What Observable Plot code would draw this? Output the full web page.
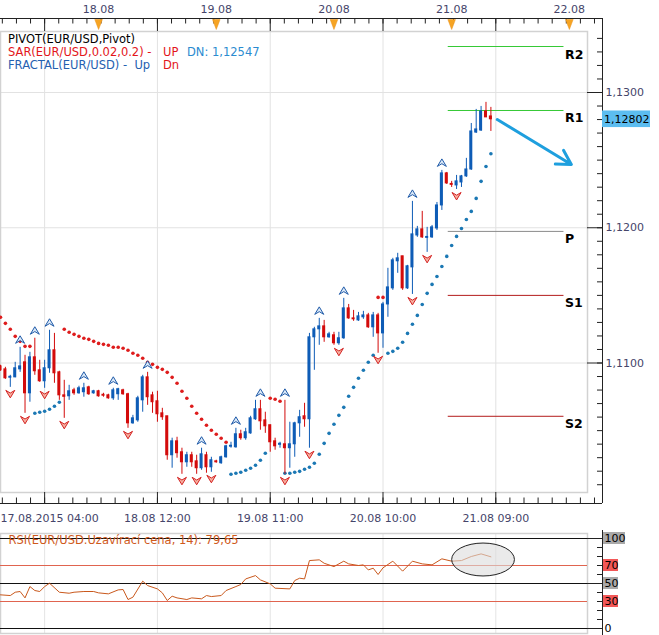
<!DOCTYPE html>
<html><head><meta charset="utf-8">
<script src="https://cdn.jsdelivr.net/npm/d3@7"></script>
<script src="https://cdn.jsdelivr.net/npm/@observablehq/plot@0.6"></script>
<style>
body{margin:0;background:#fff;}
#wrap{position:relative;width:659px;height:635px;overflow:hidden;font-family:"DejaVu Sans",Verdana,sans-serif;background:#fff;}
#main{position:absolute;left:0;top:0}
#rsi{position:absolute;left:0;top:530px}
.lg{position:absolute;font-size:11.5px;white-space:pre;line-height:13px}
</style></head><body>
<div id="wrap"><div id="main"></div><div id="rsi"></div>
<div class="lg" style="left:8px;top:32.5px;color:#000">PIVOT(EUR/USD,Pivot)</div>
<div class="lg" style="left:8px;top:45.5px;color:#e3151a">SAR(EUR/USD,0.02,0.2) -</div>
<div class="lg" style="left:163px;top:45.5px;color:#e3151a">UP</div>
<div class="lg" style="left:187px;top:45.5px;color:#2b8bd0">DN: 1,12547</div>
<div class="lg" style="left:8px;top:58.5px;color:#2560b0">FRACTAL(EUR/USD) -  Up</div>
<div class="lg" style="left:163px;top:58.5px;color:#e3151a">Dn</div>
</div>
<script>
// ---------- data (hourly EUR/USD candles, index 0 = 17.08.2015 04:00) ----------
const open = [1.10975,1.10953,1.10891,1.10894,1.10953,1.11005,1.10776,1.11042,1.10946,1.10865,
1.10961,1.11094,1.10931,1.10761,1.10754,1.10798,1.10776,1.10784,1.10820,1.10776,
1.10791,1.10765,1.10761,1.10739,1.10769,1.10798,1.10769,1.10554,1.10576,1.10724,
1.10894,1.10761,1.10717,1.10628,1.10606,1.10318,1.10421,1.10340,1.10266,1.10318,
1.10273,1.10222,1.10318,1.10229,1.10273,1.10259,1.10303,1.10381,1.10377,1.10473,
1.10444,1.10480,1.10584,1.10658,1.10576,1.10540,1.10421,1.10395,1.10399,1.10370,
1.10399,1.10554,1.10606,1.10584,1.11190,1.11249,1.11271,1.11190,1.11205,1.11146,
1.11183,1.11404,1.11330,1.11315,1.11338,1.11352,1.11264,1.11352,1.11219,1.11433,
1.11552,1.11752,1.11789,1.11552,1.11707,1.11943,1.11988,1.11925,1.11929,1.11995,
1.12165,1.12402,1.12324,1.12313,1.12335,1.12380,1.12431,1.12704,1.12719,1.12860,
1.12823];
const high = [1.10983,1.10968,1.10909,1.11005,1.11116,1.11057,1.11079,1.11183,1.11020,1.11020,
1.11242,1.11219,1.10939,1.10872,1.10835,1.10813,1.10828,1.10850,1.10828,1.10798,
1.10798,1.10776,1.10769,1.10813,1.10813,1.10806,1.10776,1.10613,1.10754,1.10909,
1.10931,1.10784,1.10791,1.10665,1.10606,1.10444,1.10451,1.10370,1.10340,1.10340,
1.10318,1.10370,1.10340,1.10303,1.10281,1.10311,1.10392,1.10414,1.10517,1.10503,
1.10517,1.10606,1.10724,1.10724,1.10636,1.10540,1.10444,1.10414,1.10724,1.10562,
1.10562,1.10650,1.10702,1.11219,1.11264,1.11330,1.11315,1.11227,1.11227,1.11227,
1.11478,1.11433,1.11389,1.11374,1.11382,1.11367,1.11374,1.11367,1.11448,1.11700,
1.11774,1.11811,1.11789,1.11722,1.12195,1.12010,1.12121,1.12003,1.12017,1.12187,
1.12424,1.12409,1.12343,1.12387,1.12387,1.12513,1.12771,1.12875,1.12897,1.12927,
1.12890];
const low = [1.10939,1.10879,1.10820,1.10891,1.10931,1.10628,1.10710,1.10909,1.10857,1.10813,
1.10924,1.10850,1.10724,1.10591,1.10724,1.10761,1.10769,1.10747,1.10761,1.10769,
1.10747,1.10747,1.10732,1.10724,1.10724,1.10761,1.10517,1.10547,1.10562,1.10636,
1.10687,1.10628,1.10562,1.10576,1.10281,1.10222,1.10296,1.10177,1.10229,1.10229,
1.10177,1.10207,1.10185,1.10192,1.10259,1.10251,1.10296,1.10370,1.10370,1.10429,
1.10429,1.10473,1.10576,1.10503,1.10480,1.10340,1.10355,1.10370,1.10177,1.10222,
1.10303,1.10451,1.10525,1.10370,1.10946,1.11131,1.11153,1.11183,1.11131,1.11131,
1.11175,1.11323,1.11308,1.11308,1.11323,1.11256,1.11190,1.11072,1.11109,1.11338,
1.11537,1.11663,1.11537,1.11544,1.11507,1.11929,1.11921,1.11818,1.11921,1.11980,
1.12128,1.12320,1.12298,1.12283,1.12298,1.12372,1.12424,1.12697,1.12712,1.12816,
1.12712];
const close = [1.10946,1.10887,1.10898,1.10961,1.10975,1.10776,1.11042,1.10939,1.10865,1.10961,
1.11094,1.10924,1.10761,1.10750,1.10791,1.10776,1.10813,1.10813,1.10769,1.10791,
1.10754,1.10758,1.10739,1.10798,1.10806,1.10769,1.10554,1.10591,1.10739,1.10894,
1.10747,1.10710,1.10621,1.10599,1.10318,1.10421,1.10333,1.10266,1.10318,1.10266,
1.10222,1.10325,1.10229,1.10281,1.10266,1.10303,1.10384,1.10388,1.10473,1.10444,
1.10488,1.10591,1.10658,1.10569,1.10532,1.10414,1.10384,1.10403,1.10370,1.10399,
1.10554,1.10599,1.10584,1.11190,1.11249,1.11271,1.11190,1.11212,1.11146,1.11183,
1.11404,1.11330,1.11323,1.11345,1.11352,1.11264,1.11352,1.11219,1.11433,1.11559,
1.11759,1.11774,1.11552,1.11715,1.11951,1.11988,1.11929,1.11932,1.12003,1.12165,
1.12402,1.12328,1.12317,1.12343,1.12380,1.12431,1.12712,1.12727,1.12860,1.12816,
1.12802];
// Parabolic SAR value per candle and its side (U = below price, D = above price)
const sar = [1.11338,1.11293,1.11249,1.11197,1.11160,1.11123,1.11123,1.10628,1.10636,1.10643,
1.10658,1.10680,1.10710,1.11249,1.11227,1.11212,1.11197,1.11183,1.11175,1.11160,
1.11145,1.11138,1.11131,1.11116,1.11116,1.11109,1.11094,1.11072,1.11057,1.11035,
1.11005,1.10990,1.10968,1.10953,1.10931,1.10894,1.10850,1.10791,1.10739,1.10680,
1.10628,1.10584,1.10540,1.10503,1.10473,1.10444,1.10414,1.10177,1.10185,1.10192,
1.10207,1.10222,1.10244,1.10281,1.10333,1.10739,1.10732,1.10717,1.10185,1.10185,
1.10192,1.10199,1.10214,1.10229,1.10259,1.10325,1.10406,1.10480,1.10547,1.10613,
1.10672,1.10754,1.10820,1.10887,1.10946,1.11005,1.11057,1.11485,1.11485,1.11072,
1.11086,1.11109,1.11153,1.11219,1.11286,1.11352,1.11433,1.11515,1.11581,1.11640,
1.11714,1.11788,1.11869,1.11936,1.11995,1.12061,1.12121,1.12217,1.12343,1.12453,
1.12547];
const sarSide = ["DDDDDDD","UUUUUU","DDDDDDDDDDDDDDDDDDDDDDDDDDDDDDDDDD","UUUUUUUU","DDD",
  "UUUUUUUUUUUUUUUUUUU","DD","UUUUUUUUUUUUUUUUUUUUUU"].join("");
// Fractals (candle indices)
const fractalUp = [4,7,10,17,23,30,41,48,53,58,65,70,84,90];
const fractalDn = [2,5,9,13,26,37,40,43,58,63,69,77,84,87,93];
// Pivot levels for 21.08
const pivotNames = ["R2","R1","P","S1","S2"];
const pivotVals = [1.13340,1.12867,1.11973,1.11500,1.10606];
const pivotColors = ["#36c936","#36c936","#8a8a8a","#b31b1b","#b31b1b"];
const pivotSpan = [91.3, 114.9];
// Annotation arrow (from last price toward lower right)
const arrowPts = {x1: 101.3, y1: 1.12800, x2: 116.4, y2: 1.12468};
// Axis labels
const dayIdx = [20,44,68,92,116];
const dayLabels = ["18.08","19.08","20.08","21.08","22.08"];
const timeIdx = [0,32,55,78,101];
const timeLabels = ["17.08.2015 04:00","18.08 12:00","19.08 11:00","20.08 10:00","21.08 09:00"];
const gridIdx = [9,32,55,78,101];
const priceGrid = [1.13,1.12,1.11];
const lastPrice = 1.12802;
// RSI(14)
const rsiIdx = [0,2,3,4,5,6,7,8,9,10,12,14,15,17,19,20,22,24,25,26,27,29,30,32,33,34,35,36,38,39,
41,42,43,45,46,48,49,50,52,53,55,56,59,60,61,62,63,65,66,68,70,71,73,74,75,76,77,78,80,82,
84,86,88,90,92,94,96,98,100];
const rsiVal = [37.4,36.6,40.3,41.1,34.0,46.6,42.2,41.1,46.6,50.3,40.3,39.2,40.3,41.1,41.1,39.6,38.5,42.9,43.3,32.2,
34.8,52.6,47.7,44.0,39.6,31.1,35.9,34.0,32.2,34.0,33.0,36.6,35.5,36.6,42.2,46.6,48.9,55.1,58.8,54.0,
49.6,44.8,44.0,53.3,55.9,55.1,75.5,76.3,72.5,68.8,74.8,71.8,70.0,70.7,65.1,67.0,60.0,67.4,74.8,63.7,
74.8,71.8,70.7,77.4,74.8,75.5,80.0,82.9,79.65];
const rsiLevels = [100,70,50,30,0];
const rsiLevelBg = ["#a9a9a9","#f25757","#a9a9a9","#f25757","#ffffff"];
const rsiTicks = [0,10,20,30,40,50,60,70,80,90,100];
const rsiTitle = "RSI(EUR/USD.Uzavírací cena, 14): 79,65";
const rsiEllipse = {x1: 92.1, x2: 104.9, v1: 57.8, v2: 94.4};

// ---------- geometry helpers (pixel <-> data for chrome) ----------
const XS = 4.904;                 // px per candle
const xv = px => px / XS;
const YK = 13525;                 // px per 1.0 price
const yv = py => 1.13 - (py - 92) / YK;
const RK = 0.9;                   // px per RSI unit
const rv = py => (98 - py) / RK;  // local px in RSI svg

const BLUE = "#0e5cb6", RED = "#d30b0b", SARB = "#1b78b4", SARR = "#de1c1c";
const AX = "#222", LBL = "#45456a";
const fmt4 = d => d.toFixed(4).replace(".", ",");
const fmt5 = d => d.toFixed(5).replace(".", ",");

const candles = open.map((o, i) => ({i, o, h: high[i], l: low[i], c: close[i], col: close[i] >= o ? BLUE : RED}));
const sarData = sar.map((v, i) => ({i, v, col: sarSide[i] === "U" ? SARB : SARR}));
const minorTicks = d3.range(-3, 40).map(k => 9 + 2.875 * k);
const priceTicks = d3.range(1101, 1135).map(k => k / 1000);

const upSym = {draw(c){ c.moveTo(0,-4.5); c.lineTo(4.5,3); c.lineTo(0,0.3); c.lineTo(-4.5,3); c.closePath(); }};
const dnSym = {draw(c){ c.moveTo(0,4.5); c.lineTo(4.5,-3); c.lineTo(0,-0.3); c.lineTo(-4.5,-3); c.closePath(); }};
const triSym = {draw(c){ c.moveTo(-3.8,-5); c.lineTo(3.8,-5); c.lineTo(0,5); c.closePath(); }};

const main = Plot.plot({
  width: 659, height: 530,
  marginLeft: 0, marginRight: 72, marginTop: 31, marginBottom: 38,
  x: {domain: [0, 587 / XS], axis: null},
  y: {domain: [yv(492), yv(31)], axis: null},
  style: {fontFamily: "DejaVu Sans, sans-serif", fontSize: "11px", background: "transparent", overflow: "visible"},
  marks: [
    Plot.ruleY(priceGrid, {x1: 0, x2: 587 / XS, stroke: "#e2e2e2"}),
    Plot.ruleX(gridIdx, {y1: yv(492), y2: yv(31), stroke: "#e2e2e2"}),
    Plot.frame({stroke: "#d2d2d2", strokeWidth: 1.5}),
    ...pivotVals.map((v, i) => Plot.ruleY([v], {x1: pivotSpan[0], x2: pivotSpan[1], stroke: pivotColors[i], strokeWidth: 1})),
    Plot.text(pivotNames, {x: xv(564.5), y: (d, i) => pivotVals[i], dy: 8, text: d => d, textAnchor: "start", fontSize: 12.5, fontWeight: "bold", fill: "#000"}),
    Plot.dot(sarData, {x: "i", y: "v", r: 1.8, fill: "col", stroke: null}),
    Plot.ruleX(candles, {x: "i", y1: "l", y2: "h", stroke: "col", strokeWidth: 1}),
    Plot.rect(candles, {x1: d => d.i - 0.31, x2: d => d.i + 0.31, y1: "o", y2: "c", fill: "col", insetTop: -0.5, insetBottom: -0.5}),
    Plot.dot(fractalUp, {x: d => d, y: d => high[d], dy: -7, symbol: upSym, fill: "#dbe9f8", stroke: "#1f5aa8", strokeWidth: 1}),
    Plot.dot(fractalDn, {x: d => d, y: d => low[d], dy: 6, symbol: dnSym, fill: "#f6b0a0", stroke: "#d42222", strokeWidth: 1}),
    Plot.arrow([arrowPts], {x1: "x1", y1: "y1", x2: "x2", y2: "y2", stroke: "#1e9fde", strokeWidth: 3, headLength: 8, headAngle: 60}),
    // top axis
    Plot.ruleY([yv(18)], {x1: 0, x2: xv(602), stroke: AX}),
    Plot.ruleX(minorTicks, {y1: yv(18), y2: yv(23.5), stroke: AX}),
    Plot.ruleX(gridIdx, {y1: yv(18), y2: yv(31), stroke: AX}),
    Plot.dot(dayIdx, {x: d => d, y: yv(24), symbol: triSym, fill: "#f6a423", stroke: "#e8901a", strokeWidth: 0.5}),
    Plot.text(dayLabels, {x: (d, i) => dayIdx[i], y: yv(8.8), text: d => d, fill: LBL}),
    // right axis
    Plot.ruleX([xv(602)], {y1: yv(503), y2: yv(18), stroke: AX}),
    Plot.ruleY(priceTicks, {x1: xv(597), x2: xv(602), stroke: AX}),
    Plot.ruleY(priceGrid, {x1: xv(587), x2: xv(602), stroke: AX}),
    Plot.text(priceGrid, {x: xv(605), y: d => d, text: fmt4, textAnchor: "start", fill: LBL}),
    Plot.rect([lastPrice], {x1: xv(602), x2: xv(650), y1: d => d - 8.3 / YK, y2: d => d + 8.3 / YK, fill: "#5cbdf0"}),
    Plot.text([lastPrice], {x: xv(603.5), y: d => d, text: fmt5, textAnchor: "start", fill: "#000"}),
    // bottom axis
    Plot.ruleY([yv(503)], {x1: 0, x2: xv(602), stroke: AX}),
    Plot.ruleX(minorTicks, {y1: yv(503), y2: yv(497.5), stroke: AX}),
    Plot.ruleX(gridIdx, {y1: yv(503), y2: yv(492), stroke: AX}),
    Plot.text(timeLabels.slice(0, 1), {x: timeIdx[0], y: yv(518), text: d => d, textAnchor: "start", fill: LBL}),
    Plot.text(timeLabels.slice(1), {x: (d, i) => timeIdx[i + 1], y: yv(518), text: d => d, fill: LBL})
  ]
});
document.getElementById("main").appendChild(main);

const rsiPts = rsiIdx.map((x, i) => ({x, v: rsiVal[i]}));
const rsiPlot = Plot.plot({
  width: 659, height: 105,
  marginLeft: 0, marginRight: 72, marginTop: 3, marginBottom: 2,
  x: {domain: [0, 587 / XS], axis: null},
  y: {domain: [rv(103), rv(3)], axis: null},
  style: {fontFamily: "DejaVu Sans, sans-serif", fontSize: "11px", background: "transparent", overflow: "visible"},
  marks: [
    Plot.ruleX(gridIdx, {stroke: "#e4e4e4"}),
    Plot.frame({stroke: "#d2d2d2", strokeWidth: 1.5}),
    Plot.ruleY([70, 30], {x1: 0, x2: 587 / XS, stroke: "#e0644f"}),
    Plot.ruleY([100, 50, 0], {x1: 0, x2: xv(602), stroke: "#111"}),
    Plot.line(rsiPts, {x: "x", y: "v", stroke: "#c9581c", strokeWidth: 1}),
    Plot.rect([rsiEllipse], {x1: "x1", x2: "x2", y1: "v1", y2: "v2", rx: 31.5, ry: 16.5, fill: "#dcdcdc", fillOpacity: 0.6, stroke: "#222", strokeWidth: 1}),
    Plot.text([rsiTitle], {x: xv(8), y: rv(9.6), text: d => d, textAnchor: "start", fill: "#cf5a1c", fontSize: 11.5}),
    Plot.ruleX([xv(602)], {y1: rv(0), y2: rv(105), stroke: AX}),
    Plot.ruleY(rsiTicks, {x1: xv(597), x2: xv(602), stroke: AX}),
    Plot.ruleY([100, 50, 0], {x1: xv(587), x2: xv(602), stroke: AX}),
    Plot.rect(rsiLevels, {x1: xv(603), x2: (d) => xv(603 + (d === 100 ? 22 : d === 0 ? 8 : 15)), y1: d => d - 6 / RK, y2: d => d + 6 / RK, fill: (d, i) => rsiLevelBg[i]}),
    Plot.text(rsiLevels, {x: xv(604), y: d => d, text: d => String(d), textAnchor: "start", fill: "#000"})
  ]
});
document.getElementById("rsi").appendChild(rsiPlot);
</script>
</body></html>
